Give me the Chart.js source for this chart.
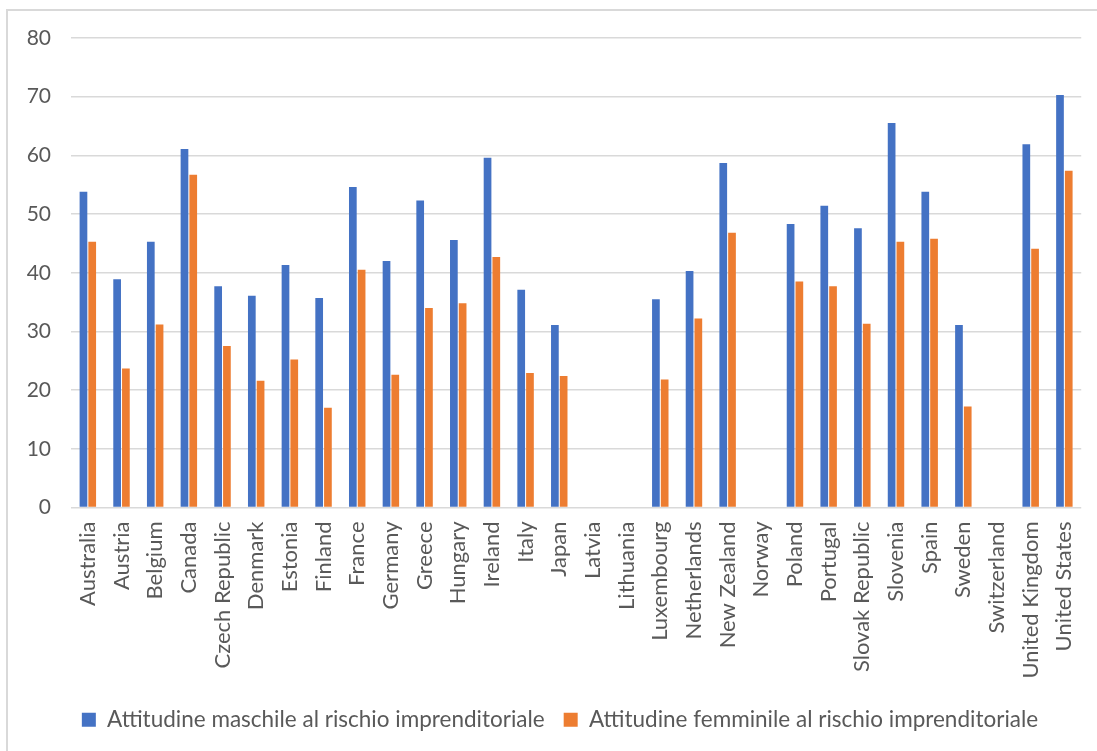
<!DOCTYPE html>
<html>
<head>
<meta charset="utf-8">
<script src="https://cdn.jsdelivr.net/npm/chart.js@4/dist/chart.umd.min.js"></script>
<style>
  html, body { margin: 0; padding: 0; background: #fff; }
  #wrap { position: relative; width: 1097px; height: 751px; overflow: hidden; }
  #edge {
    position: absolute; left: 6px; top: 9px; right: -4px; bottom: -4px;
    border-left: 2px solid #d9d9d9; border-top: 2px solid #d9d9d9;
    pointer-events: none;
  }
  canvas { display: block; }
</style>
</head>
<body>
<div id="wrap">
  <canvas id="c" width="1097" height="751"></canvas>
  <div id="edge"></div>
</div>
<script>
// Countries on the category axis
const countries = [
  "Australia", "Austria", "Belgium", "Canada", "Czech Republic", "Denmark",
  "Estonia", "Finland", "France", "Germany", "Greece", "Hungary", "Ireland",
  "Italy", "Japan", "Latvia", "Lithuania", "Luxembourg", "Netherlands",
  "New Zealand", "Norway", "Poland", "Portugal", "Slovak Republic", "Slovenia",
  "Spain", "Sweden", "Switzerland", "United Kingdom", "United States"
];

// Series names
const maleLabel = "Attitudine maschile al rischio imprenditoriale";
const femaleLabel = "Attitudine femminile al rischio imprenditoriale";

// Values per country (null = no data)
const maleValues = [
  53.8, 38.9, 45.3, 61.1, 37.7, 36.1, 41.3, 35.7, 54.6, 42.0, 52.3, 45.6, 59.6,
  37.1, 31.1, null, null, 35.5, 40.3, 58.7, null, 48.3, 51.4, 47.6, 65.5, 53.8,
  31.1, null, 61.9, 70.3
];
const femaleValues = [
  45.3, 23.7, 31.2, 56.7, 27.5, 21.6, 25.2, 17.0, 40.5, 22.6, 34.0, 34.8, 42.7,
  22.9, 22.4, null, null, 21.8, 32.2, 46.8, null, 38.5, 37.7, 31.3, 45.3, 45.8,
  17.2, null, 44.1, 57.4
];

// Value axis ticks
const yTicks = [0, 10, 20, 30, 40, 50, 60, 70, 80];

const textColor = "#595959";
const gridColor = "#d9d9d9";
const fontFamily = "Lato, 'Open Sans', sans-serif";

// Nudges the legend row so it sits centred under the plot area
const legendShift = {
  id: "legendShift",
  afterLayout(chart) {
    const lg = chart.legend;
    if (lg) { lg.left += 9; lg.right += 9; }
  }
};

new Chart(document.getElementById("c"), {
  type: "bar",
  data: {
    labels: countries,
    datasets: [
      { label: maleLabel, data: maleValues, backgroundColor: "#4472C4",
        categoryPercentage: 0.52, barPercentage: 0.88 },
      { label: femaleLabel, data: femaleValues, backgroundColor: "#ED7D31",
        categoryPercentage: 0.52, barPercentage: 0.88 }
    ]
  },
  plugins: [legendShift],
  options: {
    responsive: false,
    animation: false,
    layout: { padding: { left: 19, right: 14, top: 38, bottom: 10 } },
    plugins: {
      tooltip: { enabled: false },
      legend: {
        position: "bottom",
        labels: {
          color: textColor,
          font: { family: fontFamily, size: 22.5 },
          boxWidth: 14, boxHeight: 14,
          padding: 19
        }
      }
    },
    scales: {
      x: {
        grid: { display: false },
        border: { display: false },
        ticks: {
          color: textColor,
          font: { family: fontFamily, size: 22 },
          minRotation: 90, maxRotation: 90,
          autoSkip: false,
          padding: 6
        },
        afterFit: (s) => { s.height = 182; }
      },
      y: {
        min: 0, max: 80,
        afterBuildTicks: (s) => { s.ticks = yTicks.map(v => ({ value: v })); },
        grid: { color: gridColor, lineWidth: 1.5, drawTicks: false },
        border: { display: false },
        ticks: {
          color: textColor,
          font: { family: fontFamily, size: 21 },
          padding: 20
        },
        afterFit: (s) => { s.width = 52; }
      }
    }
  }
});
</script>
</body>
</html>
